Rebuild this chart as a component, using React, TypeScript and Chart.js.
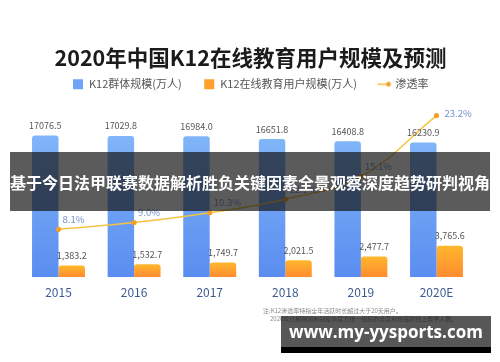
import React, { useEffect, useRef } from "react";
import { Chart, registerables } from "chart.js";

Chart.register(...registerables);

const TITLE = "2020年中国K12在线教育用户规模及预测";
const categories = ["2015", "2016", "2017", "2018", "2019", "2020E"];
const k12Population = [17076.5, 17029.8, 16984.0, 16651.8, 16408.8, 16230.9];
const onlineUsers = [1383.2, 1532.7, 1749.7, 2021.5, 2477.7, 3765.6];
const penetration = [8.1, 9.0, 10.3, 12.1, 15.1, 23.2];
const populationLabels = ["17076.5", "17029.8", "16984.0", "16651.8", "16408.8", "16230.9"];
const onlineLabels = ["1,383.2", "1,532.7", "1,749.7", "2,021.5", "2,477.7", "3,765.6"];
const penetrationLabels = ["8.1%", "9.0%", "10.3%", "12.1%", "15.1%", "23.2%"];
const seriesNames = ["K12群体规模(万人)", "K12在线教育用户规模(万人)", "渗透率"];
const bannerText = "基于今日法甲联赛数据解析胜负关键因素全景观察深度趋势研判视角";
const watermarkText = "www.my-yysports.com";
const noteLines = [
  "注:K12渗透率特指全年活跃时长超过大于20天用户。",
  "2020年已剔除因新冠疫情官方统一组织的非营利性临时线上教学人数。",
];

const FONT = "'Noto Sans CJK SC', 'Noto Sans', sans-serif";

function barGradient(top: string, bottom: string) {
  return (ctx: any) => {
    const chart = ctx.chart;
    const ys = chart.scales && chart.scales.y;
    if (!ys || ctx.type !== "data" || typeof ctx.raw !== "number") return bottom;
    const yTop = ys.getPixelForValue(ctx.raw);
    const yBase = ys.getPixelForValue(0);
    if (!isFinite(yTop) || !isFinite(yBase) || yTop === yBase) return bottom;
    const g = chart.ctx.createLinearGradient(0, yTop, 0, yBase);
    g.addColorStop(0, top);
    g.addColorStop(1, bottom);
    return g;
  };
}

function makeLineIcon() {
  const c = document.createElement("canvas");
  c.width = 16;
  c.height = 10;
  const x = c.getContext("2d")!;
  x.strokeStyle = "#f4c443";
  x.lineWidth = 1.6;
  x.beginPath();
  x.moveTo(1, 5);
  x.lineTo(12, 5);
  x.stroke();
  x.fillStyle = "#f2a029";
  x.beginPath();
  x.arc(12, 5, 2.4, 0, Math.PI * 2);
  x.fill();
  return c;
}

const labelPlugin = {
  id: "valueLabels",
  afterDatasetsDraw(chart: any) {
    const ctx = chart.ctx;
    ctx.save();
    ctx.font = `9px ${FONT}`;
    ctx.textBaseline = "middle";
    ctx.textAlign = "center";
    ctx.fillStyle = "#555555";
    const m0 = chart.getDatasetMeta(0);
    m0.data.forEach((el: any, i: number) => {
      ctx.fillText(populationLabels[i], el.x, el.y - 10);
    });
    const m1 = chart.getDatasetMeta(1);
    m1.data.forEach((el: any, i: number) => {
      ctx.fillText(onlineLabels[i], el.x, el.y - 10);
    });
    const m2 = chart.getDatasetMeta(2);
    ctx.fillStyle = "#6f8fc8";
    ctx.textAlign = "left";
    ctx.font = `9.5px ${FONT}`;
    m2.data.forEach((el: any, i: number) => {
      const last = i === m2.data.length - 1;
      if (last) ctx.fillText(penetrationLabels[i], el.x + 8, el.y - 2);
      else ctx.fillText(penetrationLabels[i], el.x + 4, el.y - 10);
    });
    ctx.restore();
  },
};

export default function App() {
  const ref = useRef<HTMLCanvasElement | null>(null);

  useEffect(() => {
    document.body.style.margin = "0";
    document.body.style.background = "#ffffff";
    const lineIcon = makeLineIcon();
    const chart = new Chart(ref.current!, {
      type: "bar",
      data: {
        labels: categories,
        datasets: [
          {
            type: "bar",
            label: seriesNames[0],
            data: k12Population,
            backgroundColor: barGradient("#80b5f9", "#5a8def"),
            borderRadius: { topLeft: 3, topRight: 3, bottomLeft: 0, bottomRight: 0 },
            borderSkipped: "bottom",
            categoryPercentage: 0.7,
            barPercentage: 1.0,
            yAxisID: "y",
            order: 2,
          },
          {
            type: "bar",
            label: seriesNames[1],
            data: onlineUsers,
            backgroundColor: barGradient("#ffb72c", "#ff8b30"),
            borderRadius: { topLeft: 3, topRight: 3, bottomLeft: 0, bottomRight: 0 },
            borderSkipped: "bottom",
            categoryPercentage: 0.7,
            barPercentage: 1.0,
            yAxisID: "y",
            order: 2,
          },
          {
            type: "line",
            label: seriesNames[2],
            data: penetration,
            yAxisID: "y2",
            borderColor: "#f4c443",
            borderWidth: 1.6,
            pointRadius: 2.6,
            pointBackgroundColor: "#f2a029",
            pointBorderWidth: 0,
            tension: 0.4,
            fill: false,
            order: 0,
          } as any,
        ],
      },
      options: {
        responsive: false,
        animation: false,
        events: [],
        layout: { padding: { left: 20.7, right: 19.7, top: 0, bottom: 0 } },
        plugins: {
          tooltip: { enabled: false },
          title: {
            display: true,
            text: TITLE,
            color: "#1b1b1b",
            font: { family: FONT, size: 21.5, weight: "bold" },
            padding: { top: 45, bottom: -14 },
          },
          legend: {
            display: true,
            position: "top",
            labels: {
              usePointStyle: true,
              boxHeight: 10,
              boxWidth: 11,
              padding: 22,
              color: "#555555",
              font: { family: FONT, size: 11 },
              generateLabels: () => [
                {
                  text: seriesNames[0],
                  fillStyle: "#6da5f6",
                  strokeStyle: "rgba(0,0,0,0)",
                  lineWidth: 0,
                  pointStyle: "rect",
                  hidden: false,
                  datasetIndex: 0,
                  fontColor: "#555555",
                },
                {
                  text: seriesNames[1],
                  fillStyle: "#ffa22d",
                  strokeStyle: "rgba(0,0,0,0)",
                  lineWidth: 0,
                  pointStyle: "rect",
                  hidden: false,
                  datasetIndex: 1,
                  fontColor: "#555555",
                },
                {
                  text: seriesNames[2],
                  fillStyle: "#f4c443",
                  strokeStyle: "rgba(0,0,0,0)",
                  lineWidth: 0,
                  pointStyle: lineIcon as any,
                  hidden: false,
                  datasetIndex: 2,
                  fontColor: "#555555",
                },
              ],
            },
          },
        },
        scales: {
          x: {
            type: "category",
            grid: { display: false, drawTicks: false },
            border: { display: false },
            ticks: {
              color: "#3d5b90",
              font: { family: FONT, size: 12 },
              padding: 8,
            },
            afterFit: (s: any) => {
              s.height = 85;
            },
          },
          y: {
            display: false,
            min: 0,
            max: 21400,
          },
          y2: {
            display: true,
            position: "right",
            min: 1.77,
            max: 25.3,
            grid: { display: false, drawTicks: false },
            border: { display: false },
            ticks: { display: false },
            afterFit: (s: any) => {
              s.width = 6;
            },
          },
        },
      },
      plugins: [labelPlugin],
    });
    return () => chart.destroy();
  }, []);

  return (
    <div style={{ position: "relative", width: 500, height: 362, overflow: "hidden", background: "#fff" }}>
      <canvas ref={ref} width={500} height={362} style={{ display: "block", width: 500, height: 362 }} />
      <div
        style={{
          position: "absolute",
          left: 263,
          top: 307,
          fontFamily: FONT,
          fontSize: 6,
          lineHeight: "7.5px",
          color: "#8a8a8a",
          whiteSpace: "nowrap",
        }}
      >
        <div>{noteLines[0]}</div>
        <div style={{ paddingLeft: 7 }}>{noteLines[1]}</div>
      </div>
      <div
        style={{
          position: "absolute",
          left: 10,
          top: 152,
          width: 480,
          height: 59,
          background: "rgba(22,22,22,0.7)",
          color: "#ffffff",
          fontFamily: FONT,
          fontWeight: 700,
          fontSize: 16,
          display: "flex",
          alignItems: "center",
          justifyContent: "center",
          whiteSpace: "nowrap",
        }}
      >
        {bannerText}
      </div>
      <div
        style={{
          position: "absolute",
          left: 281,
          top: 316,
          width: 210,
          height: 31,
          background: "rgba(22,22,22,0.72)",
          color: "#ffffff",
          fontFamily: "'Open Sans', 'DejaVu Sans', sans-serif",
          fontWeight: 700,
          fontSize: 17,
          display: "flex",
          alignItems: "center",
          justifyContent: "center",
          whiteSpace: "nowrap",
        }}
      >
        {watermarkText}
      </div>
      <div style={{ position: "absolute", left: 281, top: 347, width: 210, height: 6, background: "#000" }} />
    </div>
  );
}
